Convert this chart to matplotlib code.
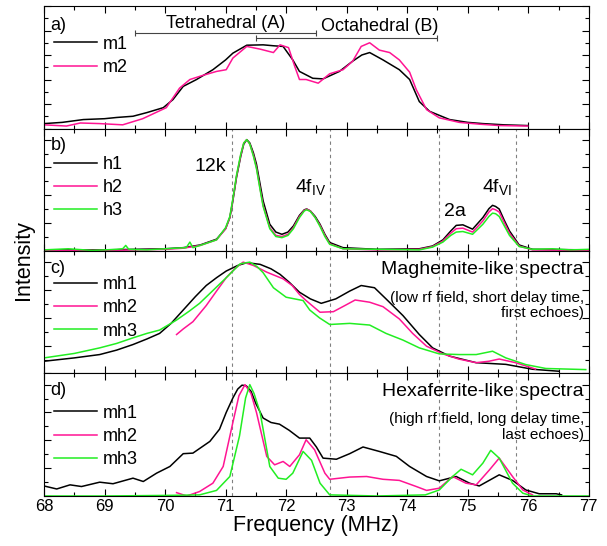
import numpy as np
import matplotlib
matplotlib.use("Agg")
import matplotlib.pyplot as plt
from matplotlib.ticker import MultipleLocator

plt.rcParams['font.family'] = ['Liberation Sans', 'DejaVu Sans']
plt.rcParams['mathtext.fontset'] = 'custom'
plt.rcParams['mathtext.rm'] = 'Liberation Sans'
plt.rcParams['mathtext.it'] = 'Liberation Sans:italic'

BLACK = 'black'
PINK = '#ff1493'
GREEN = '#22ee22'

# ---- panel a: m1 / m2 ----
m1_x = [68.0, 68.3, 68.65, 69.0, 69.2, 69.47, 69.7, 69.97, 70.13, 70.3, 70.52, 70.79, 71.0, 71.12,
        71.35, 71.62, 71.8, 71.95, 72.11, 72.22, 72.44, 72.61, 72.88, 73.1, 73.25, 73.38, 73.6,
        73.87, 74.04, 74.2, 74.37, 74.7, 75.0, 75.25, 75.6, 75.99]
m1_y = [0.04, 0.05, 0.073, 0.08, 0.09, 0.10, 0.13, 0.17, 0.236, 0.344, 0.40, 0.48, 0.56, 0.615,
        0.68, 0.683, 0.675, 0.67, 0.56, 0.466, 0.41, 0.405, 0.466, 0.55, 0.60, 0.62, 0.56,
        0.48, 0.40, 0.22, 0.14, 0.073, 0.05, 0.04, 0.03, 0.024]
m2_x = [68.0, 68.37, 68.6, 68.92, 69.3, 69.63, 70.02, 70.24, 70.41, 70.6, 70.85, 71.01, 71.12,
        71.35, 71.57, 71.79, 71.9, 72.04, 72.14, 72.22, 72.33, 72.53, 72.72, 72.94, 73.1, 73.24,
        73.38, 73.54, 73.71, 73.87, 74.04, 74.15, 74.32, 74.53, 74.86, 75.2, 75.52, 75.99]
m2_y = [0.03, 0.02, 0.045, 0.04, 0.03, 0.08, 0.17, 0.33, 0.40, 0.43, 0.466, 0.48, 0.575,
        0.67, 0.648, 0.62, 0.683, 0.66, 0.51, 0.40, 0.40, 0.37, 0.447, 0.48, 0.55, 0.67,
        0.70, 0.64, 0.62, 0.56, 0.46, 0.317, 0.154, 0.087, 0.05, 0.035, 0.024, 0.02]

# ---- panel b: h1 / h2 / h3 ----
h1_x = [68.0, 69.0, 70.0, 70.3, 70.58, 70.85, 71.0, 71.07, 71.12, 71.18, 71.25, 71.3, 71.35,
        71.4, 71.46, 71.51, 71.57, 71.62, 71.73, 71.83, 71.93, 72.03, 72.12, 72.22, 72.3, 72.34,
        72.4, 72.48, 72.56, 72.64, 72.72, 72.94, 73.5, 74.2, 74.42, 74.59, 74.72, 74.81, 74.92,
        75.08, 75.25, 75.35, 75.41, 75.46, 75.52, 75.6, 75.69, 75.85, 76.07, 77.0]
h1_y = [0.01, 0.01, 0.02, 0.03, 0.054, 0.106, 0.20, 0.30, 0.45, 0.66, 0.85, 0.96, 1.0,
        0.97, 0.88, 0.78, 0.60, 0.45, 0.24, 0.17, 0.15, 0.17, 0.225, 0.32, 0.37, 0.377,
        0.36, 0.31, 0.24, 0.15, 0.076, 0.03, 0.015, 0.02, 0.045, 0.10, 0.18, 0.23, 0.235,
        0.196, 0.30, 0.38, 0.41, 0.40, 0.377, 0.28, 0.18, 0.054, 0.015, 0.01]
h2_x = h1_x
h2_y = [0.005, 0.005, 0.015, 0.025, 0.05, 0.10, 0.20, 0.30, 0.46, 0.67, 0.86, 0.97, 1.0,
        0.96, 0.86, 0.75, 0.56, 0.41, 0.21, 0.14, 0.13, 0.15, 0.21, 0.31, 0.365, 0.375,
        0.36, 0.30, 0.23, 0.14, 0.065, 0.02, 0.01, 0.015, 0.04, 0.09, 0.16, 0.20, 0.205,
        0.17, 0.27, 0.35, 0.38, 0.37, 0.35, 0.26, 0.16, 0.045, 0.01, 0.005]
h3_x = [68.0, 68.4, 68.8, 69.2, 69.3, 69.35, 69.4, 69.7, 70.0, 70.35, 70.41, 70.46, 70.58,
        70.85, 71.0, 71.07, 71.12, 71.18, 71.25, 71.3, 71.35, 71.4, 71.46, 71.51, 71.57, 71.62,
        71.73, 71.83, 71.93, 72.03, 72.12, 72.22, 72.3, 72.34, 72.4, 72.48, 72.56, 72.64, 72.72,
        72.94, 73.5, 74.2, 74.42, 74.59, 74.72, 74.81, 74.92, 75.08, 75.25, 75.35, 75.41, 75.46,
        75.52, 75.6, 75.69, 75.85, 76.07, 76.4, 76.7, 77.0]
h3_y = [0.01, 0.02, 0.005, 0.015, 0.02, 0.05, 0.015, 0.01, 0.02, 0.03, 0.08, 0.03, 0.05,
        0.10, 0.21, 0.31, 0.47, 0.68, 0.87, 0.97, 1.0, 0.96, 0.85, 0.74, 0.55, 0.40, 0.20,
        0.13, 0.12, 0.14, 0.20, 0.30, 0.36, 0.37, 0.355, 0.30, 0.22, 0.13, 0.06, 0.02, 0.015,
        0.01, 0.035, 0.08, 0.14, 0.17, 0.175, 0.15, 0.24, 0.31, 0.34, 0.335, 0.31, 0.23, 0.14,
        0.04, 0.015, 0.02, 0.01, 0.015]

# ---- panel c: maghemite-like ----
c1_x = [68.0, 68.5, 68.92, 69.2, 69.47, 69.7, 69.91, 70.1, 70.3, 70.5, 70.68, 70.85, 71.01,
        71.2, 71.35, 71.57, 71.75, 71.9, 72.05, 72.22, 72.4, 72.58, 72.82, 73.05, 73.24, 73.46,
        73.65, 73.93, 74.2, 74.42, 74.7, 75.14, 75.63, 76.07, 76.51]
c1_y = [0.11, 0.14, 0.17, 0.21, 0.26, 0.31, 0.36, 0.45, 0.57, 0.69, 0.79, 0.86, 0.92,
        0.97, 0.995, 0.98, 0.94, 0.89, 0.82, 0.73, 0.67, 0.63, 0.67, 0.74, 0.79, 0.77,
        0.67, 0.52, 0.35, 0.23, 0.156, 0.097, 0.082, 0.038, 0.02]
c2_x = [70.19, 70.3, 70.46, 70.68, 70.85, 71.01, 71.15, 71.29, 71.46, 71.68, 71.95, 72.1, 72.22,
        72.33, 72.45, 72.56, 72.78, 72.97, 73.14, 73.38, 73.6, 73.87, 74.09, 74.32, 74.59, 74.85,
        75.14, 75.35, 75.52, 75.79, 76.12]
c2_y = [0.35, 0.40, 0.465, 0.61, 0.74, 0.86, 0.94, 1.0, 0.97, 0.91, 0.85, 0.79, 0.71,
        0.655, 0.60, 0.55, 0.555, 0.61, 0.66, 0.64, 0.60, 0.49, 0.36, 0.245, 0.176, 0.13,
        0.097, 0.11, 0.13, 0.097, 0.04]
c3_x = [68.0, 68.5, 68.92, 69.2, 69.47, 69.7, 69.91, 70.19, 70.4, 70.57, 70.8, 71.01, 71.24,
        71.4, 71.52, 71.62, 71.79, 72.0, 72.28, 72.39, 72.55, 72.72, 73.05, 73.38, 73.65, 73.93,
        74.2, 74.53, 74.86, 75.14, 75.41, 75.63, 75.96, 76.29, 76.95]
c3_y = [0.14, 0.18, 0.23, 0.27, 0.32, 0.36, 0.39, 0.48, 0.56, 0.63, 0.75, 0.86, 0.985,
        1.0, 0.96, 0.905, 0.77, 0.685, 0.655, 0.57, 0.50, 0.44, 0.45, 0.435, 0.36, 0.30,
        0.23, 0.176, 0.17, 0.17, 0.20, 0.14, 0.08, 0.045, 0.035]

# ---- panel d: hexaferrite-like ----
d1_x = [68.0, 68.21, 68.43, 68.62, 68.92, 69.14, 69.47, 69.64, 69.86, 70.08, 70.3, 70.46,
        70.74, 70.9, 71.01, 71.12, 71.2, 71.27, 71.34, 71.42, 71.5, 71.62, 71.75, 71.89, 72.05,
        72.22, 72.39, 72.5, 72.61, 72.83, 73.05, 73.27, 73.54, 73.82, 74.04, 74.32, 74.53, 74.81,
        75.03, 75.19, 75.52, 75.74, 75.96, 76.18, 76.46, 76.55]
d1_y = [0.09, 0.063, 0.10, 0.085, 0.124, 0.11, 0.16, 0.13, 0.205, 0.265, 0.38, 0.385,
        0.49, 0.60, 0.75, 0.88, 0.96, 0.995, 0.99, 0.94, 0.83, 0.70, 0.66, 0.645, 0.59,
        0.52, 0.52, 0.44, 0.34, 0.33, 0.38, 0.44, 0.40, 0.356, 0.265, 0.175, 0.136, 0.175,
        0.115, 0.09, 0.19, 0.14, 0.054, 0.02, 0.02, 0.01]
d2_x = [70.19, 70.36, 70.57, 70.79, 70.96, 71.12, 71.22, 71.32, 71.42, 71.51, 71.68, 71.81,
        71.95, 72.06, 72.22, 72.33, 72.47, 72.64, 72.72, 73.05, 73.33, 73.6, 73.87, 74.15,
        74.32, 74.53, 74.75, 74.97, 75.14, 75.36, 75.52, 75.74, 75.91, 76.07]
d2_y = [0.03, 0.0, 0.04, 0.115, 0.265, 0.66, 0.90, 1.0, 0.92, 0.75, 0.355, 0.28,
        0.31, 0.265, 0.37, 0.505, 0.415, 0.205, 0.15, 0.17, 0.175, 0.15, 0.14, 0.085,
        0.05, 0.07, 0.175, 0.115, 0.10, 0.235, 0.34, 0.175, 0.054, 0.01]
d3_x = [68.0, 69.0, 70.0, 70.57, 70.85, 71.07, 71.23, 71.33, 71.4, 71.47, 71.57, 71.73,
        71.87, 72.0, 72.11, 72.28, 72.42, 72.56, 72.72, 73.5, 74.3, 74.53, 74.75, 74.89,
        75.08, 75.25, 75.38, 75.52, 75.74, 75.91, 76.07, 77.0]
d3_y = [0.0, 0.0, 0.005, 0.01, 0.05, 0.175, 0.54, 0.88, 1.0, 0.92, 0.75, 0.265,
        0.16, 0.15, 0.205, 0.40, 0.32, 0.115, 0.01, 0.0, 0.01, 0.054, 0.175, 0.24,
        0.19, 0.295, 0.41, 0.34, 0.115, 0.025, 0.0, 0.0]

dash_x = [71.1, 72.72, 74.53, 75.79]

fig, axes = plt.subplots(4, 1, figsize=(6.07, 5.46), dpi=100, sharex=True)
fig.subplots_adjust(left=0.0725, right=0.970, top=0.989, bottom=0.0916, hspace=0)
ax_a, ax_b, ax_c, ax_d = axes

lw = 1.1
ax_a.plot(m1_x, m1_y, color=BLACK, lw=lw, label='m1')
ax_a.plot(m2_x, m2_y, color=PINK, lw=lw, label='m2')
ax_b.plot(h1_x, h1_y, color=BLACK, lw=lw, label='h1')
ax_b.plot(h2_x, h2_y, color=PINK, lw=lw, label='h2')
ax_b.plot(h3_x, h3_y, color=GREEN, lw=lw, label='h3')
for ax, (xa, ya, xb, yb, xc, yc) in zip(
        [ax_c, ax_d],
        [(c1_x, c1_y, c2_x, c2_y, c3_x, c3_y), (d1_x, d1_y, d2_x, d2_y, d3_x, d3_y)]):
    ax.plot(xa, ya, color=BLACK, lw=lw, label='mh1')
    ax.plot(xb, yb, color=PINK, lw=lw, label='mh2')
    ax.plot(xc, yc, color=GREEN, lw=lw, label='mh3')

for ax in [ax_b, ax_c, ax_d]:
    for x in dash_x:
        ax.axvline(x, color='#808080', ls=(0, (3, 3)), lw=0.8, zorder=0)

# site ranges in panel a
ax_a.errorbar([71.0], [0.78], xerr=[1.5], color='#444444', lw=0.8, capsize=2.5, capthick=0.8)
ax_a.errorbar([73.0], [0.742], xerr=[1.5], color='#444444', lw=0.8, capsize=2.5, capthick=0.8)
ax_a.text(71.0, 0.855, 'Tetrahedral (A)', fontsize=13, ha='center', va='center')
ax_a.text(73.55, 0.83, 'Octahedral (B)', fontsize=13, ha='center', va='center')

# peak labels in panel b
ax_b.text(71.01, 0.72, '12k', fontsize=14, ha='right', va='baseline')
ax_b.text(72.14, 0.528, '4f$_{\\mathrm{IV}}$', fontsize=14, ha='left', va='baseline')
ax_b.text(74.61, 0.316, '2a', fontsize=14, ha='left', va='baseline')
ax_b.text(75.23, 0.528, '4f$_{\\mathrm{VI}}$', fontsize=14, ha='left', va='baseline')

ax_c.text(76.92, 0.93, 'Maghemite-like spectra', fontsize=14, ha='right', va='center')
ax_c.text(76.92, 0.61, '(low rf field, short delay time,\nfirst echoes)', fontsize=11,
          ha='right', va='center', linespacing=1.15)
ax_d.text(76.92, 0.94, 'Hexaferrite-like spectra', fontsize=14, ha='right', va='center')
ax_d.text(76.92, 0.62, '(high rf field, long delay time,\nlast echoes)', fontsize=11,
          ha='right', va='center', linespacing=1.15)

legend_top = {ax_a: 0.86, ax_b: 0.88, ax_c: 0.90, ax_d: 0.85}
label_y = {ax_a: 0.84, ax_b: 0.86, ax_c: 0.86, ax_d: 0.86}
for ax, lab in zip(axes, ['a)', 'b)', 'c)', 'd)']):
    ax.text(0.012, label_y[ax], lab, transform=ax.transAxes, fontsize=13, ha='left', va='center')
    ax.legend(loc='upper left', bbox_to_anchor=(-0.005, legend_top[ax]), frameon=False,
              fontsize=13, handlelength=2.4, handletextpad=0.3, labelspacing=0.35, borderpad=0.2)
    ax.set_xlim(68, 77)
    ax.xaxis.set_major_locator(MultipleLocator(1))
    ax.xaxis.set_minor_locator(MultipleLocator(0.5))
    ax.tick_params(which='both', direction='in', top=True, right=True, labelleft=False)
    ax.tick_params(which='major', length=5, width=0.8)
    ax.tick_params(which='minor', length=3, width=0.8)

ax_a.set_ylim(0, 1.0)
ax_a.yaxis.set_major_locator(MultipleLocator(0.2))
ax_a.yaxis.set_minor_locator(MultipleLocator(0.1))
for ax in [ax_b, ax_c, ax_d]:
    ax.set_ylim(0, 1.1)
    ax.yaxis.set_major_locator(MultipleLocator(0.25))
    ax.yaxis.set_minor_locator(MultipleLocator(0.125))

ax_d.tick_params(axis='x', labelsize=12, pad=2)
ax_d.set_xlabel('Frequency (MHz)', fontsize=15.5, labelpad=1)
fig.text(0.039, 0.524, 'Intensity', rotation=90, fontsize=15.5, ha='center', va='center')

fig.savefig('out.png', dpi=100)
